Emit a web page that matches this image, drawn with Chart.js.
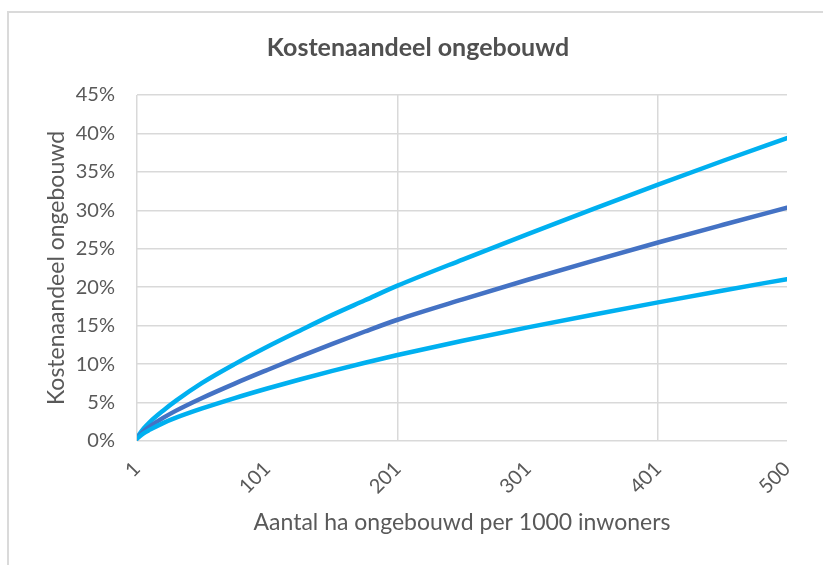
<!DOCTYPE html>
<html><head><meta charset="utf-8">
<script src="https://cdn.jsdelivr.net/npm/chart.js@4/dist/chart.umd.min.js"></script>
<style>
html,body{margin:0;padding:0;background:#fff;overflow:hidden;width:823px;height:565px;}
#frame{position:absolute;left:7px;top:11px;width:900px;height:700px;border-top:2px solid #dadada;border-left:2px solid #dadada;}
#wrap{position:absolute;left:0;top:0;width:836px;height:565px;}
</style></head><body>
<div id="frame"></div>
<div id="wrap"><canvas id="c" width="836" height="565"></canvas></div>
<script>
const chartTitle = "Kostenaandeel ongebouwd";
const xAxisTitle = "Aantal ha ongebouwd per 1000 inwoners";
const yAxisTitle = "Kostenaandeel ongebouwd";
const xValues    = [1, 6, 11, 21, 31, 51, 76, 101, 126, 151, 176, 201, 251, 301, 351, 401, 451, 500];
const upperShare = [0.45, 1.6, 2.5, 3.95, 5.25, 7.55, 10.0, 12.25, 14.35, 16.4, 18.3, 20.2, 23.6, 26.9, 30.15, 33.35, 36.45, 39.4];
const midShare   = [0.35, 1.25, 1.9, 3.0, 3.95, 5.6, 7.47, 9.24, 10.97, 12.64, 14.24, 15.77, 18.42, 20.97, 23.42, 25.82, 28.12, 30.33];
const lowerShare = [0.3, 1.0, 1.48, 2.33, 3.03, 4.23, 5.58, 6.83, 8.0, 9.13, 10.18, 11.18, 13.03, 14.78, 16.43, 18.03, 19.58, 21.05];
const xTickLabels = [1, 101, 201, 301, 401, 500];
const xGridAt     = [1, 201, 401];
const yTicksMax = 45, yStep = 5;

const FONT = 'Lato';
const TXT = '#595959';
const GRID = '#d9d9d9';
const toXY = arr => arr.map((v, i) => ({x: xValues[i], y: v}));
const line = (data, color) => ({
  data: toXY(data), borderColor: color, backgroundColor: color,
  borderWidth: 4.5, pointRadius: 0, fill: false,
  cubicInterpolationMode: 'monotone', borderCapStyle: 'round', borderJoinStyle: 'round'
});

new Chart(document.getElementById('c'), {
  type: 'line',
  data: { datasets: [
    line(lowerShare, '#00B0F0'),
    line(midShare, '#4472C4'),
    line(upperShare, '#00B0F0')
  ]},
  options: {
    responsive: false, animation: false, devicePixelRatio: 1,
    layout: { padding: 0 },
    plugins: {
      legend: { display: false }, tooltip: { enabled: false },
      title: { display: true, text: chartTitle, color: '#505050',
        font: { family: FONT, size: 25, weight: 'bold' },
        padding: { top: 33, bottom: 32 } }
    },
    scales: {
      x: {
        type: 'linear', min: 1, max: 500,
        afterBuildTicks: s => { s.ticks = xTickLabels.map(v => ({ value: v })); },
        afterFit: s => { s.height = 124; },
        grid: { color: c => (c.tick && xGridAt.includes(c.tick.value)) ? GRID : 'rgba(0,0,0,0)', lineWidth: 1.5, drawTicks: false },
        border: { display: false },
        ticks: { autoSkip: false, minRotation: 45, maxRotation: 45, padding: 16, color: TXT,
          font: { family: FONT, size: 20 }, callback: v => String(v) },
        title: { display: true, text: xAxisTitle, color: TXT, font: { family: FONT, size: 23 }, padding: { top: 0, bottom: 29 } }
      },
      y: {
        min: 0, max: yTicksMax,
        afterFit: s => { s.width = 137; },
        grid: { color: GRID, lineWidth: 1.5, drawTicks: false },
        border: { display: false },
        ticks: { stepSize: yStep, padding: 22, color: TXT, font: { family: FONT, size: 20 }, callback: v => v + '%' },
        title: { display: true, text: yAxisTitle, color: TXT, font: { family: FONT, size: 23 }, padding: { top: 43, bottom: 0 } }
      },
      y2: {
        type: 'linear', position: 'right', min: 0, max: 1,
        grid: { display: false }, border: { display: false }, ticks: { display: false },
        afterFit: s => { s.width = 49; }
      }
    }
  }
});
</script>
</body></html>
